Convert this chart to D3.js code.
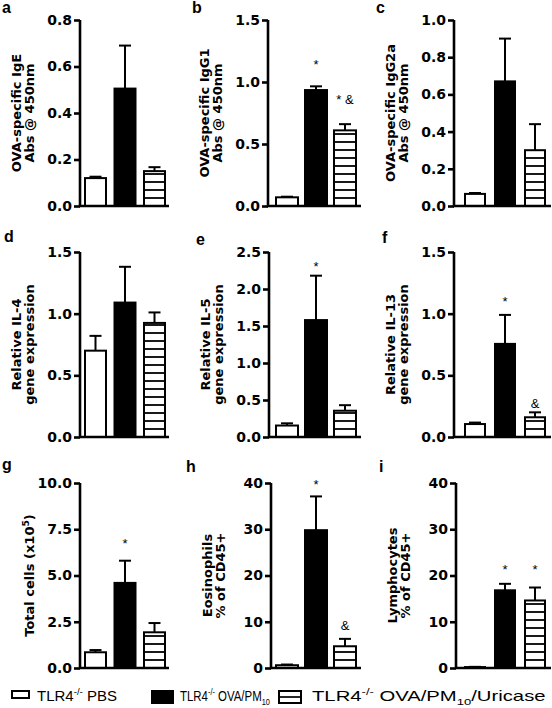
<!DOCTYPE html>
<html><head><meta charset="utf-8">
<script src="https://cdn.jsdelivr.net/npm/d3@7"></script>
<style>
html,body{margin:0;padding:0;background:#fff;}
svg{display:block;font-family:"Liberation Sans",Arial,sans-serif;}
</style></head>
<body>
<svg id="chart" width="552" height="708"></svg>
<script>
// ---------------- DATA ----------------
const groups = ["TLR4 PBS", "TLR4 OVA/PM10", "TLR4 OVA/PM10/Uricase"];
const panelLetters = ["a","b","c","d","e","f","g","h","i"];
const yTitles = [
  ["OVA-specific IgE","Abs @ 450nm"],
  ["OVA-specific IgG1","Abs @ 450nm"],
  ["OVA-specific IgG2a","Abs @ 450nm"],
  ["Relative IL-4","gene expression"],
  ["Relative IL-5","gene expression"],
  ["Relative  IL-13","gene expression"],
  ["Total cells (x10^5)"],
  ["Eosinophils","% of CD45+"],
  ["Lymphocytes","% of CD45+"]
];
const yMax = [0.8, 1.5, 1.0, 1.5, 2.5, 1.5, 10, 40, 40];
const yTicks = [
  [0,0.2,0.4,0.6,0.8],
  [0,0.5,1.0,1.5],
  [0,0.2,0.4,0.6,0.8,1.0],
  [0,0.5,1.0,1.5],
  [0,0.5,1.0,1.5,2.0,2.5],
  [0,0.5,1.0,1.5],
  [0,2.5,5,7.5,10],
  [0,10,20,30,40],
  [0,10,20,30,40]
];
const tickFormats = [".1f",".1f",".1f",".1f",".1f",".1f",".1f","d","d"];
const pbsMean      = [0.12, 0.07, 0.065, 0.70, 0.155, 0.105, 0.85, 0.6, 0.2];
const pbsErr       = [0.006, 0.005, 0.005, 0.12, 0.03, 0.012, 0.12, 0.15, 0.05];
const ovaMean      = [0.505, 0.935, 0.67, 1.09, 1.58, 0.755, 4.6, 29.8, 16.8];
const ovaErr       = [0.185, 0.03, 0.23, 0.29, 0.6, 0.235, 1.2, 7.3, 1.4];
const uricaseMean  = [0.15, 0.61, 0.30, 0.925, 0.355, 0.16, 1.93, 4.7, 14.6];
const uricaseErr   = [0.017, 0.05, 0.14, 0.085, 0.075, 0.04, 0.5, 1.6, 2.8];
// significance marks: panel index, group index, text, y value of mark
const annotPanel = [1, 1, 4, 5, 5, 6, 7, 7, 8, 8];
const annotGroup = [1, 2, 1, 1, 2, 1, 1, 2, 1, 2];
const annotText  = ["*", "*  &", "*", "*", "&", "*", "*", "&", "*", "*"];
const annotValue = [1.15, 0.875, 2.33, 1.11, 0.28, 6.83, 40.0, 9.5, 21.7, 21.7];
const legendLabels = [["TLR4","-/-"," PBS"],["TLR4","-/-"," OVA/PM","10",""],["TLR4","-/-"," OVA/PM","10","/Uricase"]];

// ---------------- LAYOUT ----------------
const rowTop = [20, 252, 483];
const rowBottom = [206, 437, 668];
const axisXs = [80, 268, 454, 80, 269, 454, 80, 271, 456];
const colBarStart = [85, 276, 465];
const colStep = [29.5, 29, 30];
const colBw = [21, 22, 20];
const colAxisEnd = [169, 361, 551];
const letterPos = [[2,13],[192,13],[376,13],[4,242],[196,245],[382,243],[2,470],[186,472],[379,472]];
const WIDE = "'DejaVu Sans',Verdana,sans-serif";

const svg = d3.select("#chart");
const defs = svg.append("defs");
const AXW = 2.6, BARW = 2;

function richText(sel, str){
  const parts = str.split(/\^/);
  sel.append("tspan").text(parts[0]);
  for(let i=1;i<parts.length;i++){
    const m = parts[i].match(/^(\w+)(.*)$/);
    sel.append("tspan").attr("baseline-shift","super").attr("font-size","0.7em").text(m[1]);
    sel.append("tspan").text(m[2]);
  }
}

for(let p=0;p<9;p++){
  const row = Math.floor(p/3), col = p%3;
  const g = svg.append("g");
  const axisX = axisXs[p];
  const y = d3.scaleLinear().domain([0, yMax[p]]).range([rowBottom[row], rowTop[row]]);
  const bw = colBw[col], step = colStep[col];
  const x = d3.scaleBand().domain(groups)
     .range([colBarStart[col], colBarStart[col] + 2*step + bw])
     .paddingInner((step-bw)/step).paddingOuter(0);

  const pid = "stripe"+p;
  const pat = defs.append("pattern").attr("id",pid).attr("patternUnits","userSpaceOnUse")
    .attr("width",10).attr("height",8)
    .attr("patternTransform",`translate(0,${y(0)+4})`);
  pat.append("rect").attr("width",10).attr("height",8).attr("fill","#fff");
  pat.append("line").attr("x1",0).attr("x2",10).attr("y1",4).attr("y2",4)
     .attr("stroke","#000").attr("stroke-width",1.8);

  const means = [pbsMean[p], ovaMean[p], uricaseMean[p]];
  const errs = [pbsErr[p], ovaErr[p], uricaseErr[p]];
  const fills = ["#fff", "#000", `url(#${pid})`];

  groups.forEach((gname,i)=>{
    const cx = x(gname) + bw/2;
    g.append("line").attr("x1",cx).attr("x2",cx)
      .attr("y1",y(means[i])).attr("y2",y(means[i]+errs[i]))
      .attr("stroke","#000").attr("stroke-width",2);
    g.append("line").attr("x1",cx-6).attr("x2",cx+6)
      .attr("y1",y(means[i]+errs[i])).attr("y2",y(means[i]+errs[i]))
      .attr("stroke","#000").attr("stroke-width",2);
  });
  g.selectAll("rect.bar").data(groups).join("rect").attr("class","bar")
    .attr("x",d=>x(d)).attr("width",bw)
    .attr("y",(d,i)=>y(means[i])).attr("height",(d,i)=>y(0)-y(means[i]))
    .attr("fill",(d,i)=>fills[i]).attr("stroke","#000").attr("stroke-width",BARW);

  const yAxis = d3.axisLeft(y).tickValues(yTicks[p]).tickFormat(d3.format(tickFormats[p])).tickSize(6).tickPadding(2);
  const ag = g.append("g").attr("transform",`translate(${axisX},0)`).call(yAxis);
  ag.attr("font-family", WIDE);
  ag.select(".domain").attr("stroke-width",AXW).attr("d",`M0,${y(0)}V${y(yMax[p])}`);
  ag.selectAll(".tick line").attr("stroke-width",AXW);
  ag.selectAll(".tick text").attr("font-size","14px").attr("font-weight","bold").attr("fill","#000");
  g.append("line").attr("x1",axisX-1).attr("x2",colAxisEnd[col])
    .attr("y1",y(0)).attr("y2",y(0)).attr("stroke","#000").attr("stroke-width",AXW);

  const lines = yTitles[p];
  const cy = (rowTop[row]+rowBottom[row])/2;
  lines.forEach((ln,k)=>{
    const bx = lines.length===1 ? axisX-46 : axisX-59+13*k;
    const t = g.append("text").attr("transform",`translate(${bx},${cy}) rotate(-90)`)
      .attr("text-anchor","middle").attr("font-size","13px").attr("font-weight","bold")
      .attr("font-family", WIDE);
    richText(t, ln);
  });

  svg.append("text").attr("x",letterPos[p][0]).attr("y",letterPos[p][1])
    .attr("font-size","16px").attr("font-weight","bold").text(panelLetters[p]);

  annotPanel.forEach((ap,k)=>{
    if(ap!==p) return;
    const cx = x(groups[annotGroup[k]]) + bw/2;
    g.append("text").attr("x",cx).attr("y",y(annotValue[k]) + 6)
      .attr("text-anchor","middle").attr("font-size","13px").text(annotText[k]);
  });
}

// ---------------- LEGEND ----------------
const leg = svg.append("g");
const boxSpecs = [[12,691,17,7],[152,691,21,12],[279,691,22,12]];
const legText = [37, 180, 312];
const legWidth = [80, 90, 234];
boxSpecs.forEach((b,i)=>{
  leg.append("rect").attr("x",b[0]).attr("y",b[1]).attr("width",b[2]).attr("height",b[3])
    .attr("fill", i===1 ? "#000" : "#fff").attr("stroke","#000").attr("stroke-width",2);
  if(i===2){
    leg.append("line").attr("x1",b[0]).attr("x2",b[0]+b[2]).attr("y1",b[1]+b[3]/2).attr("y2",b[1]+b[3]/2)
      .attr("stroke","#000").attr("stroke-width",1.7);
  }
  const t = leg.append("text").attr("x",0).attr("y",0).attr("font-size","14px");
  const parts = legendLabels[i];
  t.append("tspan").text(parts[0]);
  t.append("tspan").attr("font-size","9px").attr("dy",-6).text(parts[1]);
  t.append("tspan").attr("dy",6).text(parts[2]);
  if(parts.length>3){
    t.append("tspan").attr("font-size","9px").attr("dy",4).text(parts[3]);
    t.append("tspan").attr("dy",-4).text(parts[4]);
  }
  const natural = t.node().getBBox().width;
  const sx = legWidth[i] / natural;
  t.attr("transform",`translate(${legText[i]},701) scale(${sx},1)`);
});
</script>
</body></html>
